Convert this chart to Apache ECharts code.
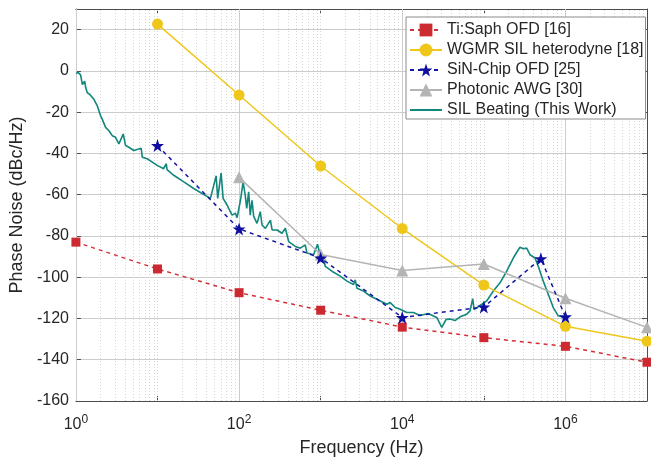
<!DOCTYPE html>
<html>
<head>
<meta charset="utf-8">
<script src="https://cdn.jsdelivr.net/npm/echarts@6/dist/echarts.min.js"></script>
<style>
html,body{margin:0;padding:0;background:#fff;}
#chart{width:651px;height:462px;}
</style>
</head>
<body>
<div id="chart"></div>
<script>
// ---- data ----
const tisaphFreq = [1, 10, 100, 1e3, 1e4, 1e5, 1e6, 1e7];
const tisaphPN   = [-83, -96, -107.5, -116, -124.2, -129.3, -133.5, -141.2];

const wgmrFreq = [10, 100, 1e3, 1e4, 1e5, 1e6, 1e7];
const wgmrPN   = [22.7, -11.7, -46.1, -76.4, -103.8, -123.8, -131];

const sinFreq = [10, 100, 1e3, 1e4, 1e5, 5e5, 1e6];
const sinPN   = [-36.2, -76.6, -90.7, -119.5, -114.4, -91, -119.2];

const awgFreq = [100, 1e3, 1e4, 1e5, 1e6, 1e7];
const awgPN   = [-51.6, -89, -96.8, -93.6, -110.2, -124.3];

const silFreq = [1, 1.06, 1.09, 1.14, 1.2, 1.28, 1.32, 1.38, 1.48, 1.66, 1.83, 2.01, 2.1, 2.31, 2.54, 2.79,
  3.06, 3.36, 3.8, 4.06, 4.45, 5.13, 5.38, 6.31, 6.5, 7.48, 7.83, 9.91, 11.9, 12.8, 13.1, 15.8, 21, 27.8,
  35.2, 44.5, 52.3, 54.7, 60.2, 63.7, 71.3, 74.6, 82.1, 90.1, 94.5, 104, 112, 119, 124, 131, 137, 144, 151,
  166, 182, 191, 210, 242, 254, 292, 336, 369, 405, 489, 562, 647, 679, 818, 916, 989, 1085, 1138, 1374,
  1738, 2100, 2528, 2655, 2782, 3350, 4046, 4887, 6476, 7115, 8186, 9424, 11380, 13710, 16560, 20750,
  26500, 30500, 34450, 38550, 44390, 51100, 61750, 67750, 73100, 75900, 89800, 108400, 130700, 157800,
  190600, 229700, 264500, 277500, 304300, 335000, 367600, 423400, 464800, 535000, 616200, 709500, 816600, 985500];
const silPN = [-1.3, -0.7, -1.0, -1.9, -6.6, -5.0, -8.2, -10.6, -11.4, -13.8, -17, -21.8, -23.4, -27.4, -29, -31.4,
  -32.2, -35.4, -30.6, -36.2, -37, -38.6, -39.4, -37.5, -41.8, -42.6, -43.4, -45.8, -47.4, -45, -47.9, -50.6, -53.8, -57,
  -59.4, -61.8, -50.9, -61.8, -49.5, -61.8, -65, -66.6, -69.9, -69, -71.1, -62.7, -53.8, -60.3, -66.6, -58.6, -69.9, -62.7, -70.5,
  -73.9, -68.2, -74.7, -76.3, -72.3, -77.1, -77.1, -78.7, -76.3, -82.7, -85.1, -85.9, -84.3, -88.3, -89.1, -84, -89.7, -90.7, -94.7, -97.1,
  -99.5, -101.9, -103.5, -101.3, -105.4, -106.7, -109.1, -110.7, -113.1, -112.3, -114.7, -115.5, -117.1, -117.1, -118.6, -117.6,
  -119.5, -124.3, -120.5, -120.3, -121, -119.2, -117.9, -116.3, -110.4, -115.7, -113.7, -111.5, -106.7, -102.7,
  -97.1, -90.7, -86.7, -85.5, -86.2, -85.9, -89.1, -90.7, -94.7, -101.9, -108.3, -114.7, -118.7, -119.5];

const yTicks = [-160, -140, -120, -100, -80, -60, -40, -20, 0, 20];
const majorX = [1, 100, 1e4, 1e6];
const minorX = [2,3,4,5,6,7,8,9,10,20,30,40,50,60,70,80,90,200,300,400,500,600,700,800,900,1000,
  2000,3000,4000,5000,6000,7000,8000,9000,2e4,3e4,4e4,5e4,6e4,7e4,8e4,9e4,1e5,2e5,3e5,4e5,5e5,6e5,7e5,8e5,9e5,
  2e6,3e6,4e6,5e6,6e6,7e6,8e6,9e6];

const names = ['Ti:Saph OFD [16]', 'WGMR SIL heterodyne [18]', 'SiN-Chip OFD [25]', 'Photonic AWG [30]', 'SIL Beating (This Work)'];

const zip = (a, b) => a.map((v, i) => [v, b[i]]);
const FONT = "'Liberation Sans', Arial, Helvetica, sans-serif";
const TXT = '#262626';
const AX = '#4d4d4d';
const starPath = 'path://M50,0 L61.8,35.1 L97.6,35.1 L68.8,56.8 L79.4,91 L50,70 L20.6,91 L31.2,56.8 L2.4,35.1 L38.2,35.1 Z';

const chart = echarts.init(document.getElementById('chart'), null, {renderer: 'canvas'});
chart.setOption({
  animation: false,
  textStyle: {fontFamily: FONT},
  grid: {left: 75, right: 4, top: 9, bottom: 58, show: false},
  legend: {
    z: 50,
    data: names.slice(0, 4).map(n => ({name: n})).concat([{name: names[4], itemStyle: {opacity: 0}}]),
    orient: 'vertical',
    left: 406, top: 17,
    padding: [5, 2, 1, 3],
    itemGap: 4,
    itemWidth: 32,
    itemHeight: 16,
    backgroundColor: '#ffffff',
    borderColor: '#8c8c8c',
    borderWidth: 1,
    borderRadius: 0,
    textStyle: {fontFamily: FONT, fontSize: 16, color: TXT, lineHeight: 16}
  },
  xAxis: [{
    type: 'log', logBase: 10, min: 1, max: 1e7,
    name: 'Frequency (Hz)', nameLocation: 'middle', nameGap: 38,
    nameTextStyle: {fontFamily: FONT, fontSize: 18, color: TXT},
    axisLine: {show: true, onZero: false, lineStyle: {color: AX, width: 1}},
    axisTick: {show: true, inside: true, length: 5, lineStyle: {color: AX}},
    splitLine: {show: false},
    axisLabel: {
      margin: 13, color: TXT,
      formatter: function (v) {
        const e = Math.round(Math.log10(v));
        if (Math.abs(Math.log10(v) - e) > 1e-6 || e % 2 !== 0) return '';
        return '{b|10}{s|' + e + '}';
      },
      rich: {
        b: {fontSize: 16, fontFamily: FONT, color: TXT, verticalAlign: 'bottom'},
        s: {fontSize: 12, fontFamily: FONT, color: TXT, verticalAlign: 'bottom', padding: [0, 0, 7, 0]}
      }
    }
  }, {
    type: 'log', logBase: 10, min: 1, max: 1e7, position: 'top',
    axisLine: {show: true, onZero: false, lineStyle: {color: AX, width: 1}},
    axisTick: {show: true, inside: true, length: 5, lineStyle: {color: AX}},
    axisLabel: {show: false}, splitLine: {show: false}
  }],
  yAxis: [{
    type: 'value', min: -160, max: 30, interval: 20,
    name: 'Phase Noise (dBc/Hz)', nameLocation: 'middle', nameGap: 42, nameRotate: 90,
    nameTextStyle: {fontFamily: FONT, fontSize: 18, color: TXT},
    axisLine: {show: true, onZero: false, lineStyle: {color: AX, width: 1}},
    axisTick: {show: true, inside: true, length: 5, lineStyle: {color: AX}},
    axisLabel: {
      margin: 7, fontSize: 16, color: TXT, fontFamily: FONT,
      formatter: v => (yTicks.indexOf(v) >= 0 ? String(v) : '')
    },
    splitLine: {show: true, lineStyle: {color: '#cccccc', width: 1}}
  }, {
    type: 'value', min: -160, max: 30, interval: 20, position: 'right',
    axisLine: {show: true, onZero: false, lineStyle: {color: AX, width: 1}},
    axisTick: {show: true, inside: true, length: 5, lineStyle: {color: AX}},
    axisLabel: {show: false}, splitLine: {show: false}
  }],
  series: [
    {
      name: 'gridlines', type: 'line', data: [], z: 1, silent: true,
      markLine: {
        silent: true, z: 1, symbol: ['none', 'none'], label: {show: false}, animation: false,
        data: minorX.map(v => ({xAxis: v, lineStyle: {color: '#d6d6d6', type: [1, 2], width: 1}}))
          .concat(majorX.map(v => ({xAxis: v, lineStyle: {color: '#cccccc', type: 'solid', width: 1}})))
      }
    },
    {
      name: names[4], type: 'line', data: zip(silFreq, silPN), showSymbol: false, symbol: 'none', z: 3,
      lineStyle: {color: '#12877c', width: 1.6}, itemStyle: {color: '#12877c'}
    },
    {
      name: names[0], type: 'line', data: zip(tisaphFreq, tisaphPN), z: 4,
      symbol: 'rect', symbolSize: 9,
      lineStyle: {color: '#d32f34', width: 1.5, type: [4, 4]},
      itemStyle: {color: '#cc2a30', borderWidth: 0}
    },
    {
      name: names[1], type: 'line', data: zip(wgmrFreq, wgmrPN), z: 4,
      symbol: 'circle', symbolSize: 11,
      lineStyle: {color: '#efc71b', width: 1.5},
      itemStyle: {color: '#efc71b', borderWidth: 0}
    },
    {
      name: names[3], type: 'line', data: zip(awgFreq, awgPN), z: 4,
      symbol: 'triangle', symbolSize: 12,
      lineStyle: {color: '#b4b4b4', width: 1.5},
      itemStyle: {color: '#b4b4b4', borderWidth: 0}
    },
    {
      name: names[2], type: 'line', data: zip(sinFreq, sinPN), z: 5,
      symbol: starPath, symbolSize: 13,
      lineStyle: {color: '#1414a6', width: 1.5, type: [4, 4]},
      itemStyle: {color: '#0e0ea0', borderWidth: 0}
    }
  ]
});
</script>
</body>
</html>
